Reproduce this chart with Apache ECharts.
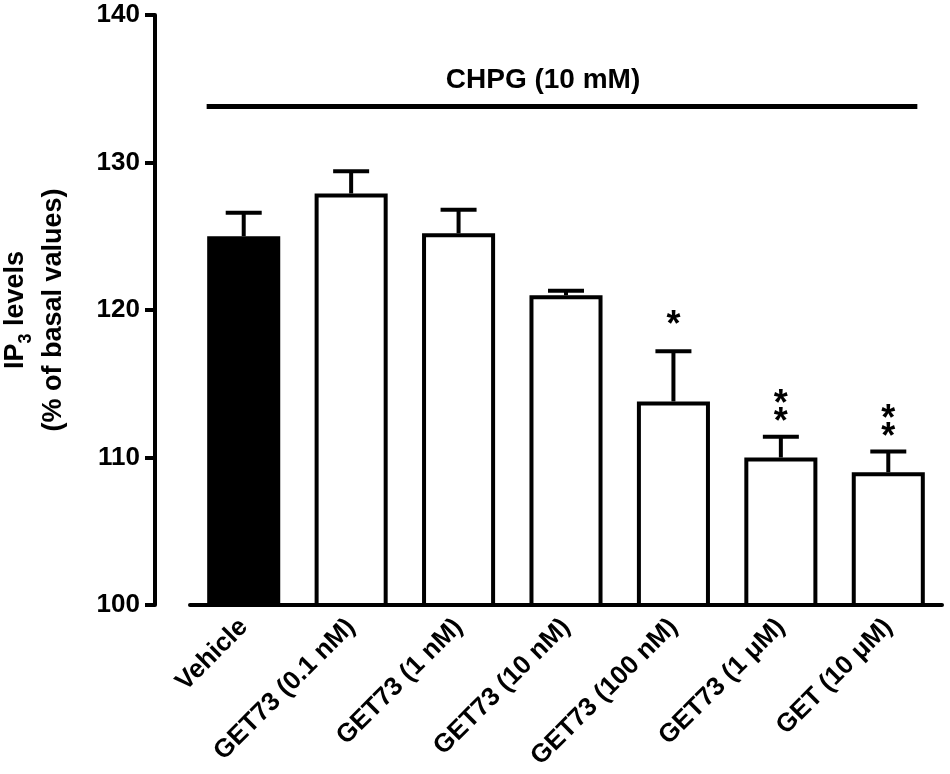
<!DOCTYPE html>
<html lang="en">
<head>
    <meta charset="UTF-8">
    <title>IP3 levels</title>
    <script src="https://cdn.jsdelivr.net/npm/echarts@6.0.0/dist/echarts.min.js"></script>
    <style>
        html, body { margin: 0; padding: 0; background: #fff; }
    </style>
</head>
<body>
    <div id="chart" style="width: 950px; height: 774px;"></div>

    <script>
        var categorias = ['Vehicle', 'GET73 (0.1 nM)', 'GET73 (1 nM)', 'GET73 (10 nM)',
                          'GET73 (100 nM)', 'GET73 (1 \u03bcM)', 'GET (10 \u03bcM)'];
        var medias = [125.0, 127.9, 125.2, 121.0, 113.8, 110.0, 109.0];
        var errosSup = [126.6, 129.4, 126.8, 121.3, 117.2, 111.4, 110.4];
        var significancia = ['', '', '', '', '*', '**', '**'];
        var ticksY = [100, 110, 120, 130, 140];
        var nivelChpg = 133.8;
        var rotuloChpg = 'CHPG (10 mM)';

        var fonte = '"Liberation Sans", Arial, sans-serif';
        var chart = echarts.init(document.getElementById('chart'));

        var dadosBarras = medias.map(function (v, i) {
            return {
                value: v,
                itemStyle: { color: i === 0 ? '#000' : '#fff' }
            };
        });

        var dadosErro = medias.map(function (v, i) {
            return [i, v, errosSup[i]];
        });

        function desenharErro(params, api) {
            var base = api.coord([api.value(0), api.value(1)]);
            var topo = api.coord([api.value(0), api.value(2)]);
            var meiaAba = 18;
            var filhos = [
                { type: 'line', shape: { x1: base[0], y1: base[1], x2: base[0], y2: topo[1] },
                  style: { stroke: '#000', lineWidth: 4 } },
                { type: 'line', shape: { x1: base[0] - meiaAba, y1: topo[1], x2: base[0] + meiaAba, y2: topo[1] },
                  style: { stroke: '#000', lineWidth: 4 } }
            ];
            // asteriscos de significância empilhados acima da barra de erro
            var sig = significancia[params.dataIndex];
            for (var k = 0; k < sig.length; k++) {
                var dy = sig.length === 1 ? 34 : 23 + (sig.length - 1 - k) * 18;
                filhos.push({
                    type: 'text',
                    style: {
                        text: '*', x: base[0], y: topo[1] - dy + 9,
                        fill: '#000', font: 'bold 36px ' + fonte,
                        align: 'center', verticalAlign: 'middle'
                    }
                });
            }
            return { type: 'group', children: filhos };
        }

        function desenharChpg(params, api) {
            var larg = api.size([1, 0])[0] * 0.69;
            var ini = api.coord([0, nivelChpg]);
            var fim = api.coord([categorias.length - 1, nivelChpg]);
            var x1 = ini[0] - larg / 2;
            var x2 = fim[0] + larg / 2 - 8;
            return {
                type: 'group',
                children: [
                    { type: 'line', shape: { x1: x1, y1: ini[1], x2: x2, y2: ini[1] },
                      style: { stroke: '#000', lineWidth: 5 } },
                    { type: 'text',
                      style: { text: rotuloChpg, x: (x1 + x2) / 2 - 19, y: ini[1] - 26,
                               fill: '#000', font: 'bold 28px ' + fonte,
                               align: 'center', verticalAlign: 'middle' } }
                ]
            };
        }

        chart.setOption({
            animation: false,
            backgroundColor: '#fff',
            grid: { left: 190, right: 8, top: 15, bottom: 169, outerBoundsMode: 'none' },
            xAxis: {
                type: 'category',
                data: categorias,
                axisLine: { lineStyle: { color: '#000', width: 4 } },
                axisTick: { show: false },
                axisLabel: {
                    interval: 0,
                    rotate: 45,
                    margin: 18,
                    padding: [24, 0, 0, 0],
                    color: '#000',
                    fontFamily: fonte,
                    fontWeight: 'bold',
                    fontSize: 26
                }
            },
            yAxis: {
                type: 'value',
                min: ticksY[0],
                max: ticksY[ticksY.length - 1],
                interval: 10,
                offset: 35,
                splitLine: { show: false },
                axisLine: { show: true, lineStyle: { color: '#000', width: 4 } },
                axisTick: { show: true, length: 10, lineStyle: { color: '#000', width: 4 } },
                axisLabel: {
                    margin: 15,
                    color: '#000',
                    fontFamily: fonte,
                    fontWeight: 'bold',
                    fontSize: 26
                },
                name: '{a|IP}{s|3}{a| levels}\n{a|(% of basal values)}',
                nameLocation: 'middle',
                nameRotate: 90,
                nameGap: 82,
                nameTextStyle: {
                    color: '#000',
                    rich: {
                        a: { fontFamily: fonte, fontWeight: 'bold', fontSize: 27, lineHeight: 38, color: '#000' },
                        s: { fontFamily: fonte, fontWeight: 'bold', fontSize: 18, lineHeight: 38,
                             verticalAlign: 'bottom', padding: [10, 0, 0, 0], color: '#000' }
                    }
                }
            },
            series: [
                {
                    type: 'bar',
                    data: dadosBarras,
                    barWidth: '68%',
                    itemStyle: { borderColor: '#000', borderWidth: 4 }
                },
                {
                    type: 'custom',
                    data: dadosErro,
                    renderItem: desenharErro,
                    z: 3
                },
                {
                    type: 'custom',
                    data: [[0, nivelChpg]],
                    renderItem: desenharChpg,
                    z: 3
                }
            ]
        });
    </script>
</body>
</html>
